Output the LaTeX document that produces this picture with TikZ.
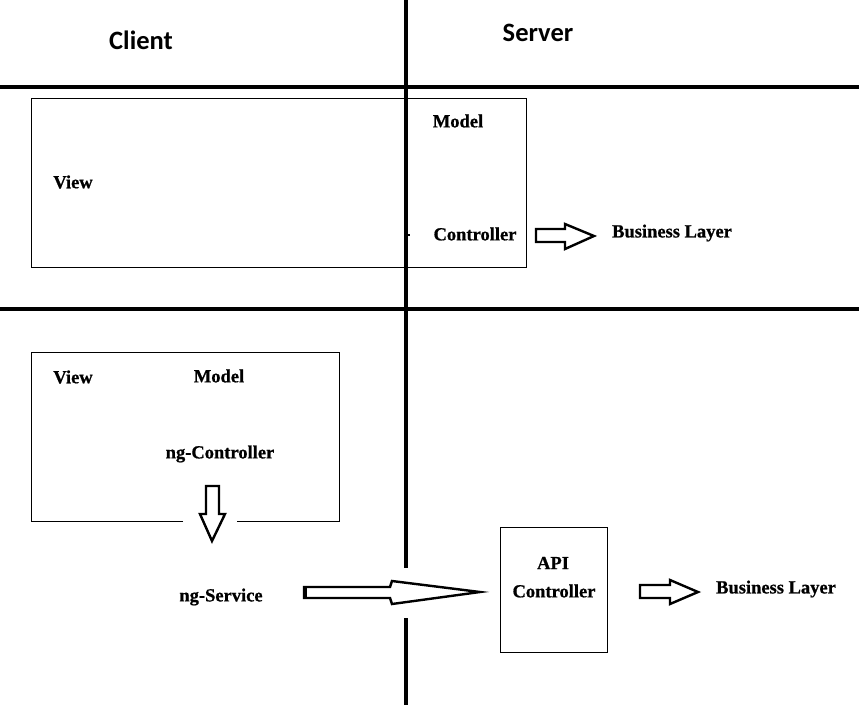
\documentclass[tikz,border=0pt]{standalone}
\usepackage{fontspec}
\setmainfont{Liberation Serif}[BoldFeatures={FakeBold=0.8}]
\newfontfamily\hdrfont{Carlito}
\begin{document}
\begin{tikzpicture}[x=1pt,y=-1pt,
  lbl/.style={font=\fontsize{18.5}{20}\selectfont\bfseries, inner sep=0pt},
  hdr/.style={font=\hdrfont\fontsize{26.5}{29}\selectfont\bfseries, inner sep=0pt},
  divider/.style={line width=3.2pt},
  thinbox/.style={draw, line width=0.9pt},
  blockarrow/.style={draw, line width=2.4pt, line join=miter, fill=white}]
\useasboundingbox (0,0) rectangle (859,705);
% dividers
\draw[divider] (0,87) -- (859,87);
\draw[divider] (0,309) -- (859,309);
\coordinate (vtop) at (406,0);
\coordinate (vgapA) at (406,568);
\coordinate (vgapB) at (406,618);
\coordinate (vbot) at (406,705);
\draw[line width=4.2pt] (vtop) -- (vgapA);
\draw[line width=4.2pt] (vgapB) -- (vbot);
\draw[line width=1.5pt] (406,235) -- (410,235);
% headers
\node[hdr] (client) at (141,40) {Client};
\node[hdr] (server) at (538,33) {Server};
% top box
\draw[thinbox] (31,98) rectangle (526,267);
\node[lbl] (model1) at (458,121) {Model};
\node[lbl] (view1) at (73,182) {View};
\node[lbl] (ctrl1) at (475,234) {Controller};
\node[lbl] (bl1) at (672,233) {Business Layer};
\draw[blockarrow] (536,229) -- (565,229) -- (565,224) -- (594,236) -- (565,249) -- (565,242) -- (536,242) -- cycle;
% bottom-left box with gap
\draw[thinbox] (183,521) -- (31,521) -- (31,352) -- (339,352) -- (339,521) -- (237,521);
\node[lbl] (view2) at (73,377) {View};
\node[lbl] (model2) at (219,376) {Model};
\node[lbl] (ngc) at (220,454) {ng-Controller};
\draw[blockarrow] (206,486) -- (219,486) -- (219,514) -- (225,514) -- (212,541) -- (200,514) -- (206,514) -- cycle;
\node[lbl] (ngs) at (221,597) {ng-Service};
% long arrow
\draw[blockarrow] (304,587) -- (390,587) -- (392,581) -- (480,592) -- (392,604) -- (390,598) -- (304,598) -- cycle;
\draw[line width=3pt] (305,586.5) -- (305,598.5);
% API box
\draw[thinbox] (500,527) rectangle (607,652);
\node[lbl] (api) at (553,563) {API};
\node[lbl] (ctrl2) at (554,591) {Controller};
\draw[blockarrow] (640,585) -- (670,585) -- (670,580) -- (698,592) -- (670,604) -- (670,598) -- (640,598) -- cycle;
\node[lbl] (bl2) at (776,589) {Business Layer};
\end{tikzpicture}
\end{document}
